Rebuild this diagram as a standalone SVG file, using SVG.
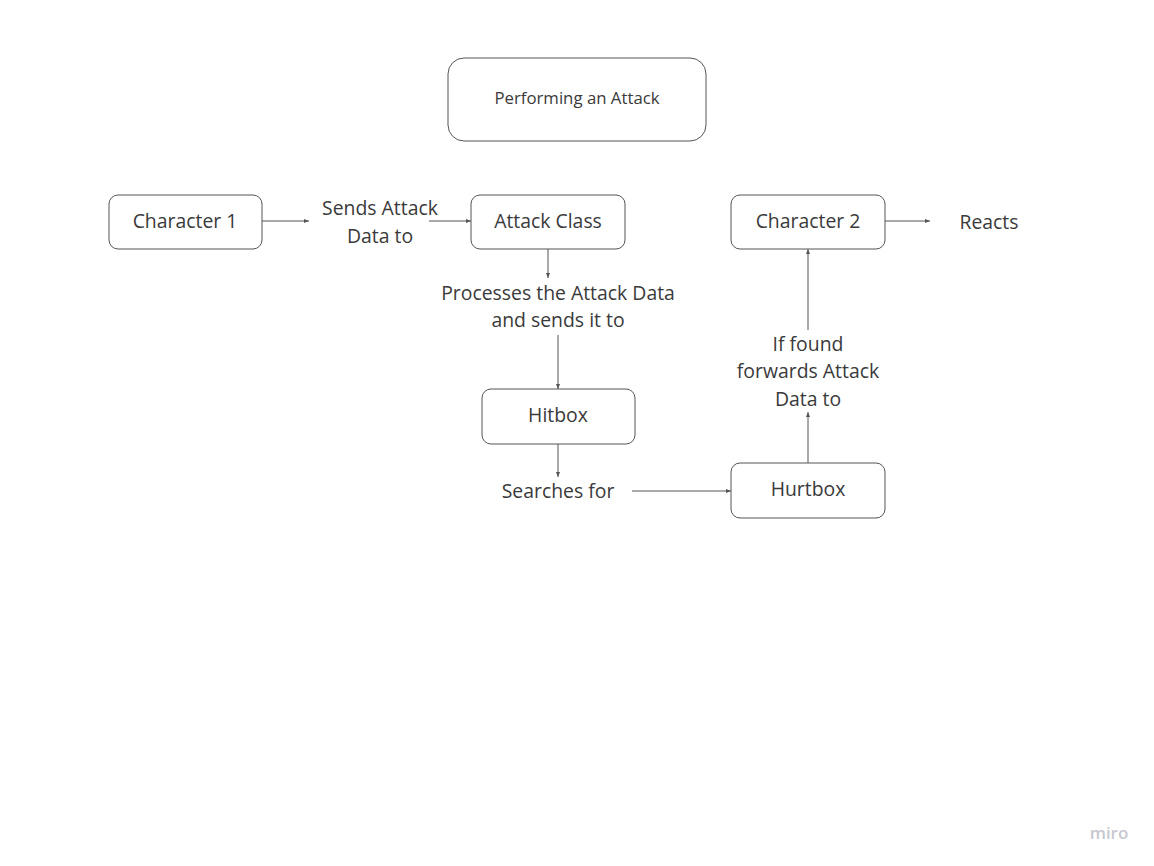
<svg xmlns="http://www.w3.org/2000/svg" width="1154" height="866" viewBox="0 0 1154 866">
<style>
.box{fill:#fff;stroke:#555;stroke-width:1}
.t{font-family:"Open Sans","Noto Sans",sans-serif;font-size:19.4px;fill:#3a3a3a;text-anchor:middle}
.ts{font-size:16.8px}
.c{stroke:#555;stroke-width:1;fill:none;marker-end:url(#ah)}
</style>
<defs>
<marker id="ah" markerWidth="6" markerHeight="6" refX="5" refY="3" orient="auto" markerUnits="userSpaceOnUse">
<path d="M0,1 L5,3 L0,5 Z" fill="#555"/>
</marker>
</defs>
<rect width="1154" height="866" fill="#fff"/>
<g id="title"><rect class="box" x="448" y="58" width="258" height="83" rx="16"/><text class="t ts" x="577" y="104">Performing an Attack</text></g>
<g id="character1"><rect class="box" x="109" y="195" width="153" height="54" rx="9"/><text class="t" x="185" y="228">Character 1</text></g>
<g id="attackclass"><rect class="box" x="471" y="195" width="154" height="54" rx="9"/><text class="t" x="548" y="228">Attack Class</text></g>
<g id="character2"><rect class="box" x="731" y="195" width="154" height="54" rx="9"/><text class="t" x="808" y="228">Character 2</text></g>
<g id="hitbox"><rect class="box" x="482" y="389" width="153" height="55" rx="9"/><text class="t" x="558" y="422">Hitbox</text></g>
<g id="hurtbox"><rect class="box" x="731" y="463" width="154" height="55" rx="9"/><text class="t" x="808" y="496">Hurtbox</text></g>
<g id="labels">
<text class="t" x="380" y="215">Sends Attack</text>
<text class="t" x="380" y="243">Data to</text>
<text class="t" x="558" y="300">Processes the Attack Data</text>
<text class="t" x="558" y="327">and sends it to</text>
<text class="t" x="558" y="498">Searches for</text>
<text class="t" x="808" y="351">If found</text>
<text class="t" x="808" y="378">forwards Attack</text>
<text class="t" x="808" y="406">Data to</text>
<text class="t" x="989" y="229">Reacts</text>
</g>
<g id="connectors">
<line class="c" x1="262" y1="221" x2="309" y2="221"/>
<line class="c" x1="429" y1="221" x2="471" y2="221"/>
<line class="c" x1="548" y1="249" x2="548" y2="278"/>
<line class="c" x1="558" y1="335" x2="558" y2="389"/>
<line class="c" x1="558" y1="444" x2="558" y2="477"/>
<line class="c" x1="632" y1="491" x2="731" y2="491"/>
<line class="c" x1="808" y1="463" x2="808" y2="412"/>
<line class="c" x1="808" y1="330" x2="808" y2="249"/>
<line class="c" x1="885" y1="221" x2="930" y2="221"/>
</g>
<text x="1109" y="839" font-family="Open Sans, sans-serif" font-size="17" font-weight="600" fill="#c8c8d0" text-anchor="middle">miro</text>
</svg>
